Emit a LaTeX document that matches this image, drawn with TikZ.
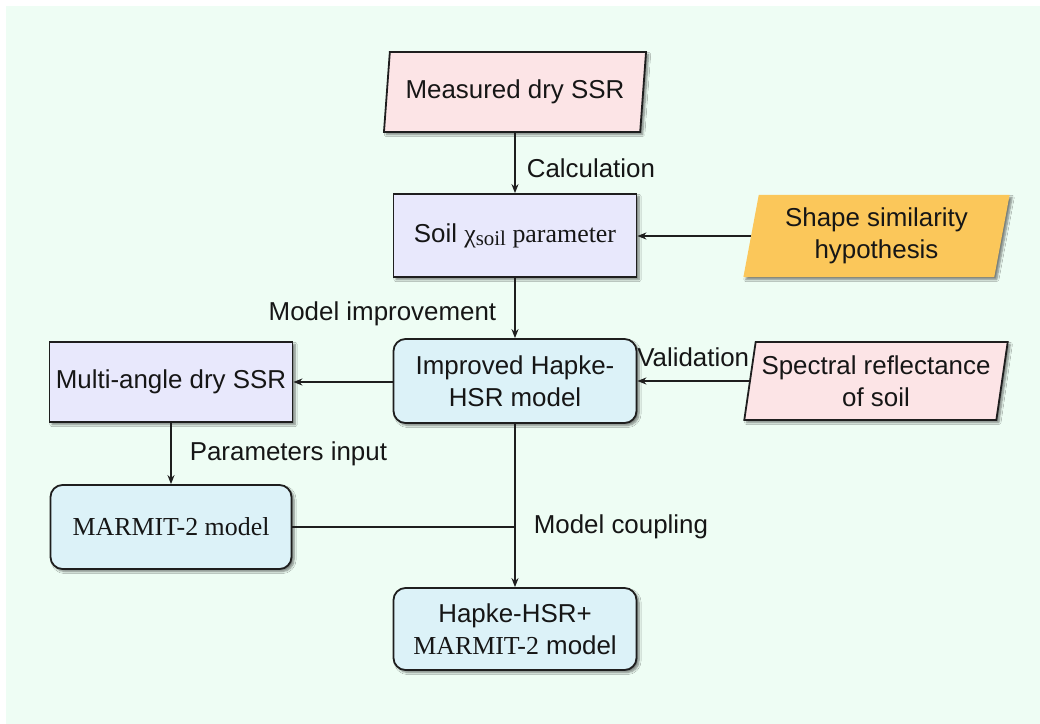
\documentclass[tikz,border=0pt]{standalone}
\usepackage{fontspec}
\setmainfont{Liberation Sans}
\newfontfamily\tnr{Liberation Serif}
\usetikzlibrary{shapes.geometric,arrows.meta,shadows.blur}
\definecolor{bgmint}{RGB}{238,253,244}
\definecolor{pinkfill}{RGB}{252,228,230}
\definecolor{lavfill}{RGB}{232,232,252}
\definecolor{cyanfill}{RGB}{220,242,248}
\definecolor{orangefill}{RGB}{251,199,90}
\definecolor{edgecol}{RGB}{30,30,30}
\definecolor{txtcol}{RGB}{22,22,22}
\begin{document}
\begin{tikzpicture}[x=1bp,y=-1bp,
  every node/.style={font=\fontsize{26}{32}\selectfont, text=txtcol, align=center, inner sep=0pt},
  base/.style={minimum width=243bp, minimum height=82bp,
    blur shadow={shadow xshift=2.5bp, shadow yshift=-2.5bp, shadow blur steps=6, shadow opacity=50}},
  sqbox/.style={base, rectangle, draw=edgecol, line width=1.8bp, fill=lavfill},
  rbox/.style={base, rectangle, rounded corners=12bp, draw=edgecol, line width=1.8bp, fill=cyanfill},
  para/.style={base, trapezium, trapezium left angle=78, trapezium right angle=102,
    trapezium stretches=true, minimum width=263bp, minimum height=80bp},
  arr/.style={-{Stealth[length=9bp,width=7bp]}, line width=1.6bp, draw=edgecol},
  plain/.style={line width=1.6bp, draw=edgecol},
  lbl/.style={inner sep=0pt}
]
\fill[white] (0,0) rectangle (1040,724);
\fill[bgmint] (6,6) rectangle (1040,724);

\node[para, draw=edgecol, line width=1.8bp, fill=pinkfill] (meas) at (515,92) {Measured dry SSR};
\node[sqbox, minimum height=83bp] (soil) at (515,235.5) {Soil {\tnr χ\raisebox{-0.3ex}{\fontsize{21}{22}\selectfont soil} parameter}};
\node[para, fill=orangefill, minimum width=267bp, minimum height=82bp] (shape) at (876.5,236) {Shape similarity\\hypothesis};
\node[rbox, minimum height=84bp] (imp) at (515,381) {Improved Hapke-\\HSR model};
\node[sqbox, minimum height=80bp] (multi) at (171,382) {Multi-angle dry SSR};
\node[para, draw=edgecol, line width=1.8bp, fill=pinkfill, minimum width=264bp, minimum height=78bp] (spec) at (876,381) {Spectral reflectance\\of soil};
\node[rbox, minimum height=84bp, minimum width=241bp] (marmit) at (171,527) {\tnr MARMIT-2 model};
\node[rbox, minimum height=82bp] (hapke) at (515,629) {Hapke-HSR+\\{\tnr MARMIT-2} model};

\draw[arr] (meas.south) -- node[lbl, anchor=west, xshift=11bp, pos=0.58] {Calculation} (soil.north);
\draw[arr] (shape.west) -- (shape.west -| soil.east);
\draw[arr] (soil.south) -- node[lbl, anchor=east, xshift=-18bp, pos=0.6] {Model improvement} (imp.north);
\draw[arr] (imp.west |- multi.east) -- (multi.east);
\draw[arr] (spec.west) -- node[lbl, anchor=base, yshift=15bp] {Validation} (spec.west -| imp.east);
\draw[arr] (multi.south) -- node[lbl, anchor=west, xshift=18bp, pos=0.5] {Parameters input} (marmit.north);
\coordinate (join) at (marmit.east -| imp.south);
\draw[plain] (marmit.east) -- (join);
\draw[arr] (imp.south) -- node[lbl, anchor=west, xshift=18bp, pos=0.63] {Model coupling} (hapke.north);
\end{tikzpicture}
\end{document}
